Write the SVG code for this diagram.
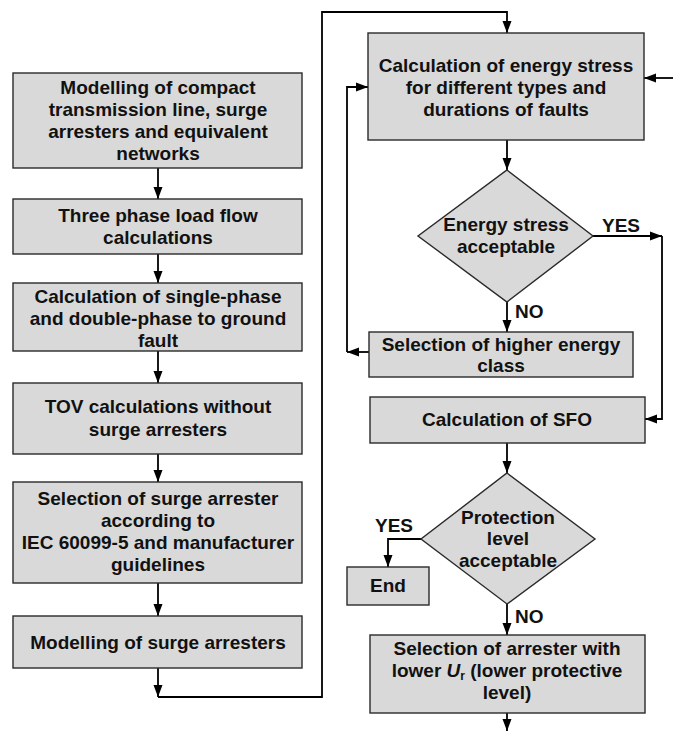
<svg xmlns="http://www.w3.org/2000/svg" width="673" height="731" viewBox="0 0 673 731">
<defs>
<marker id="ah" markerUnits="userSpaceOnUse" markerWidth="12" markerHeight="12" viewBox="0 0 12 12" refX="12" refY="6" orient="auto">
<path d="M0,1.5 L12,6 L0,10.5 Z" fill="#000"/>
</marker>
<style>
.box{fill:#d9d9d9;stroke:#2a2a2a;stroke-width:1.4}
.t{font-family:"Liberation Sans",Arial,sans-serif;font-weight:bold;font-size:19px;fill:#111;text-anchor:middle}
.l{font-family:"Liberation Sans",Arial,sans-serif;font-weight:bold;font-size:19px;fill:#111}
.c{fill:none;stroke:#000;stroke-width:1.8}
</style>
</defs>
<rect width="673" height="731" fill="#fff"/>
<g id="connectors">
<line class="c" x1="158" y1="168" x2="158" y2="199" marker-end="url(#ah)"/>
<line class="c" x1="158" y1="254" x2="158" y2="283" marker-end="url(#ah)"/>
<line class="c" x1="158" y1="351" x2="158" y2="383" marker-end="url(#ah)"/>
<line class="c" x1="158" y1="454" x2="158" y2="482" marker-end="url(#ah)"/>
<line class="c" x1="158" y1="583" x2="158" y2="616" marker-end="url(#ah)"/>
<line class="c" x1="158" y1="668" x2="158" y2="697" marker-end="url(#ah)"/>
<polyline class="c" points="158,697 322,697 322,12 507,12 507,33" marker-end="url(#ah)"/>
<line class="c" x1="673" y1="78" x2="644" y2="78" marker-end="url(#ah)"/>
<line class="c" x1="507" y1="140" x2="507" y2="170" marker-end="url(#ah)"/>
<line class="c" x1="593" y1="236" x2="662" y2="236" marker-end="url(#ah)"/>
<polyline class="c" points="662,236 662,419 645,419" marker-end="url(#ah)"/>
<line class="c" x1="507" y1="302" x2="507" y2="332" marker-end="url(#ah)"/>
<line class="c" x1="369" y1="352" x2="347" y2="352" marker-end="url(#ah)"/>
<polyline class="c" points="347,352 347,87 368,87" marker-end="url(#ah)"/>
<line class="c" x1="507" y1="443" x2="507" y2="473" marker-end="url(#ah)"/>
<polyline class="c" points="421,539 388,539 388,567" marker-end="url(#ah)"/>
<line class="c" x1="507" y1="604" x2="507" y2="635" marker-end="url(#ah)"/>
<line class="c" x1="507" y1="713" x2="507" y2="731" marker-end="url(#ah)"/>
<text class="l" x="602" y="232">YES</text>
<text class="l" x="515" y="318">NO</text>
<text class="l" x="375" y="532">YES</text>
<text class="l" x="515" y="623">NO</text>
</g>
<g id="n1">
<rect class="box" x="13" y="73" width="289" height="95"/>
<text class="t" x="158" y="94">Modelling of compact</text>
<text class="t" x="158" y="116">transmission line, surge</text>
<text class="t" x="158" y="138">arresters and equivalent</text>
<text class="t" x="158" y="160">networks</text>
</g>
<g id="n2">
<rect class="box" x="13" y="199" width="289" height="55"/>
<text class="t" x="158" y="222">Three phase load flow</text>
<text class="t" x="158" y="244">calculations</text>
</g>
<g id="n3">
<rect class="box" x="13" y="283" width="289" height="68"/>
<text class="t" x="158" y="303">Calculation of single-phase</text>
<text class="t" x="158" y="325">and double-phase to ground</text>
<text class="t" x="158" y="347">fault</text>
</g>
<g id="n4">
<rect class="box" x="13" y="383" width="289" height="71"/>
<text class="t" x="158" y="413">TOV calculations without</text>
<text class="t" x="158" y="436">surge arresters</text>
</g>
<g id="n5">
<rect class="box" x="13" y="482" width="289" height="101"/>
<text class="t" x="158" y="505">Selection of surge arrester</text>
<text class="t" x="158" y="527">according to</text>
<text class="t" x="158" y="549">IEC 60099-5 and manufacturer</text>
<text class="t" x="158" y="571">guidelines</text>
</g>
<g id="n6">
<rect class="box" x="13" y="616" width="289" height="52"/>
<text class="t" x="158" y="649">Modelling of surge arresters</text>
</g>
<g id="n7">
<rect class="box" x="368" y="33" width="276" height="107"/>
<text class="t" x="506" y="72">Calculation of energy stress</text>
<text class="t" x="506" y="94">for different types and</text>
<text class="t" x="506" y="116">durations of faults</text>
</g>
<g id="n8">
<polygon class="box" points="507,170 593,236 507,302 418,236"/>
<text class="t" x="506" y="231">Energy stress</text>
<text class="t" x="506" y="253">acceptable</text>
</g>
<g id="n9">
<rect class="box" x="369" y="332" width="264" height="45"/>
<text class="t" x="501" y="351">Selection of higher energy</text>
<text class="t" x="501" y="372">class</text>
</g>
<g id="n10">
<rect class="box" x="370" y="397" width="275" height="46"/>
<text class="t" x="507" y="426">Calculation of SFO</text>
</g>
<g id="n11">
<polygon class="box" points="507,473 595,539 507,604 421,539"/>
<text class="t" x="508" y="524">Protection</text>
<text class="t" x="508" y="545">level</text>
<text class="t" x="508" y="567">acceptable</text>
</g>
<g id="n12">
<rect class="box" x="347" y="567" width="82" height="38"/>
<text class="t" x="388" y="592">End</text>
</g>
<g id="n13">
<rect class="box" x="370" y="635" width="275" height="78"/>
<text class="t" x="507" y="655">Selection of arrester with</text>
<text class="t" x="507" y="677">lower <tspan font-style="italic">U</tspan><tspan font-size="12px" dy="3">r</tspan><tspan dy="-3"> (lower protective</tspan></text>
<text class="t" x="507" y="699">level)</text>
</g>
</svg>
